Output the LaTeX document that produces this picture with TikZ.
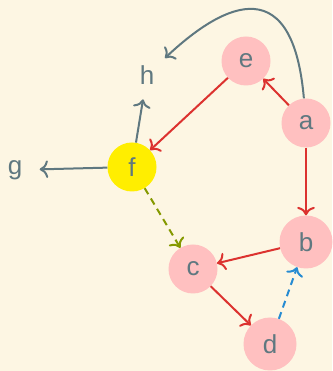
\documentclass[tikz,border=0pt]{standalone}
\usepackage{fontspec}
\setsansfont{Liberation Sans}
\usepackage{xcolor}
\usetikzlibrary{arrows.meta}

\definecolor{bgcream}{HTML}{FDF6E3}
\definecolor{basegrey}{HTML}{5F7880}
\definecolor{edgered}{HTML}{DC322F}
\definecolor{edgeblue}{HTML}{268BD2}
\definecolor{edgeolive}{HTML}{859900}
\definecolor{nodepink}{HTML}{FFC0C0}
\definecolor{nodeyellow}{HTML}{FFEE00}

\begin{document}
\begin{tikzpicture}[
    x=1pt, y=1pt,
    >={To[scale=1.4]},
    vertex/.style={circle, minimum size=49pt, inner sep=0pt, text=basegrey,
        font=\sffamily\fontsize{26}{30}\selectfont},
    filled/.style={vertex, fill=nodepink},
    redge/.style={->, edgered, line width=2pt},
    gedge/.style={->, basegrey, line width=2pt},
    dedge/.style={->, line width=2pt, dash pattern=on 7pt off 5pt}
]
    % --- Hintergrund ---
    \fill[bgcream] (0,0) rectangle (332,371);
    \useasboundingbox (0,0) rectangle (332,371);

    % --- Knoten ---
    \node[filled] (a) at (306,248) {a};
    \node[filled, minimum size=53pt] (b) at (306,129) {b};
    \node[filled] (c) at (193,102) {c};
    \node[filled, minimum size=53pt] (d) at (270,27) {d};
    \node[filled] (e) at (246,310) {e};
    \node[vertex, fill=nodeyellow] (f) at (132,204) {f};
    \node[vertex] (g) at (15,201) {g};
    \node[vertex] (h) at (147,296) {h};

    % --- Kanten ---
    \draw[redge] (a) -- (e);
    \draw[redge] (a) -- (b);
    \draw[redge] (e) -- (f);
    \draw[redge] (b) -- (c);
    \draw[redge] (c) -- (d);
    \draw[dedge, edgeblue] (d) -- (b);
    \draw[dedge, edgeolive] (f) -- (c);
    \draw[gedge] (f) -- (g);
    \draw[gedge] (f) -- (h);
    \draw[gedge] (a) .. controls (292,410) and (215,360) .. (h);

\end{tikzpicture}
\end{document}
